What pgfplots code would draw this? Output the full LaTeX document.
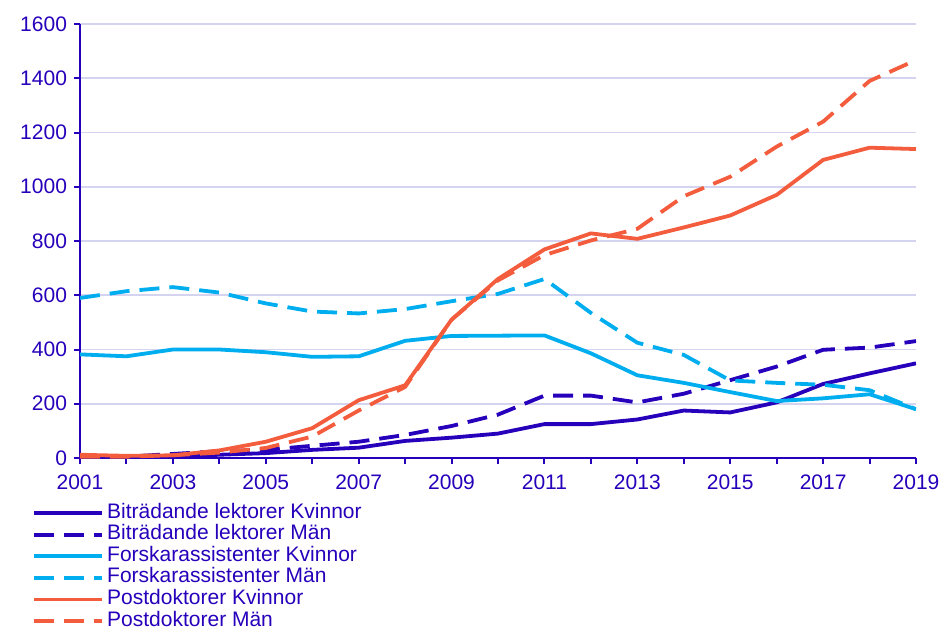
\documentclass[border=0pt]{standalone}
\usepackage{fontspec}
\setmainfont{Liberation Sans}
\usepackage{pgfplots}
\pgfplotsset{compat=1.18}
\definecolor{dblue}{RGB}{38,0,186}
\definecolor{lblue}{RGB}{0,174,239}
\definecolor{orng}{RGB}{243,92,60}
\definecolor{gridc}{RGB}{212,212,240}
\begin{document}
\begin{tikzpicture}[font=\fontsize{10.5}{12}\selectfont]
\begin{axis}[
  scale only axis,
  width=418pt, height=217pt,
  xmin=2001, xmax=2019, ymin=0, ymax=1600,
  xtick={2001,2003,...,2019},
  minor xtick={2002,2004,...,2018},
  ytick={0,200,...,1600},
  axis x line=bottom, axis y line=left,
  axis line style={dblue, line width=1pt, -},
  tick align=outside,
  major tick length=3pt, minor tick length=3pt,
  tick style={dblue, line width=1pt},
  minor tick style={dblue, line width=1pt},
  ymajorgrids,
  major grid style={gridc, line width=0.8pt},
  ticklabel style={dblue},
  xticklabel style={yshift=-2pt},
  /pgf/number format/1000 sep={},
  /pgf/number format/assume math mode=true,
  every axis plot/.append style={line width=1.9pt},
  legend cell align=left,
  legend style={at={(-0.0574,-0.101)}, anchor=north west, draw=none, fill=none,
    inner sep=0pt, row sep=0pt, column sep=1pt,
    nodes={inner ysep=0.4pt, inner xsep=0.5pt, text height=7.5pt, text depth=2.5pt, text=dblue}},
  legend image code/.code={\draw[line width=1.9pt,#1] (0pt,0pt) -- (34pt,0pt);},
  dashed/.style={dash pattern=on 10pt off 5pt},
]
\addplot[dblue] coordinates {(2001,2)(2002,3)(2003,5)(2004,12)(2005,18)(2006,30)(2007,38)(2008,63)(2009,75)(2010,90)(2011,125)(2012,125)(2013,142)(2014,175)(2015,168)(2016,205)(2017,273)(2018,312)(2019,349)};
\addlegendentry{Biträdande lektorer Kvinnor}
\addplot[dblue, dashed] coordinates {(2001,3)(2002,5)(2003,15)(2004,25)(2005,30)(2006,45)(2007,60)(2008,85)(2009,118)(2010,160)(2011,230)(2012,230)(2013,205)(2014,237)(2015,287)(2016,337)(2017,399)(2018,407)(2019,431)};
\addlegendentry{Biträdande lektorer Män}
\addplot[lblue] coordinates {(2001,382)(2002,375)(2003,400)(2004,400)(2005,390)(2006,373)(2007,375)(2008,432)(2009,450)(2010,451)(2011,452)(2012,386)(2013,305)(2014,277)(2015,243)(2016,210)(2017,220)(2018,235)(2019,180)};
\addlegendentry{Forskarassistenter Kvinnor}
\addplot[lblue, dashed] coordinates {(2001,590)(2002,615)(2003,630)(2004,610)(2005,570)(2006,540)(2007,533)(2008,549)(2009,578)(2010,605)(2011,660)(2012,535)(2013,425)(2014,380)(2015,286)(2016,277)(2017,270)(2018,250)(2019,180)};
\addlegendentry{Forskarassistenter Män}
\addplot[orng] coordinates {(2001,12)(2002,8)(2003,10)(2004,28)(2005,60)(2006,110)(2007,213)(2008,268)(2009,510)(2010,660)(2011,769)(2012,828)(2013,808)(2014,850)(2015,894)(2016,970)(2017,1099)(2018,1144)(2019,1139)};
\addlegendentry{Postdoktorer Kvinnor}
\addplot[orng, dashed] coordinates {(2001,5)(2002,5)(2003,10)(2004,20)(2005,37)(2006,79)(2007,175)(2008,262)(2009,510)(2010,655)(2011,748)(2012,802)(2013,845)(2014,965)(2015,1037)(2016,1148)(2017,1240)(2018,1390)(2019,1467)};
\addlegendentry{Postdoktorer Män}
\end{axis}
\pgfresetboundingbox
\path (current axis.south west) ++(-40pt,-85pt) coordinate (bl);
\path (current axis.north east) ++(13pt,12pt) coordinate (tr);
\useasboundingbox (bl) rectangle (tr);
\end{tikzpicture}
\end{document}
